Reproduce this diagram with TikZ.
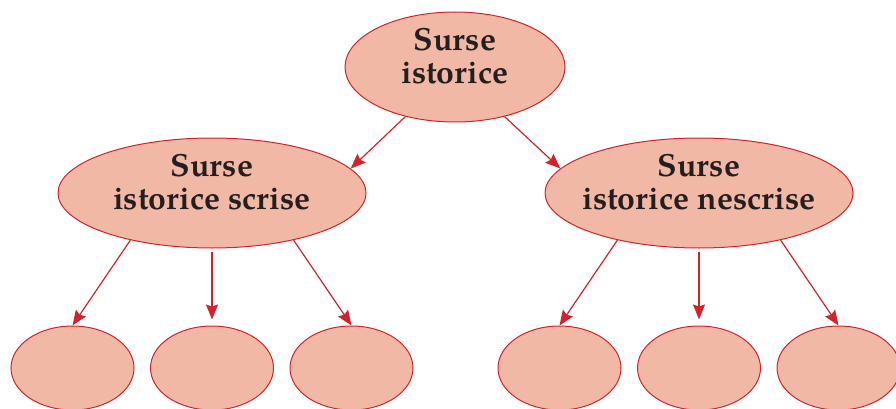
\documentclass[tikz,border=0pt]{standalone}
\usepackage{fontspec}
\setmainfont{texgyrepagella}[Extension=.otf,UprightFont=*-regular,BoldFont=*-bold]
\usetikzlibrary{shapes.geometric,arrows.meta}
\definecolor{efill}{RGB}{240,184,165}
\definecolor{ered}{RGB}{210,35,45}
\definecolor{etext}{RGB}{35,31,32}
\begin{document}
\begin{tikzpicture}[x=1pt,y=-1pt,
  bubble/.style={ellipse,draw=ered,fill=efill,line width=1pt,inner sep=0pt,
     align=center,text=etext,font=\fontsize{32}{33}\selectfont\bfseries},
  bigbub/.style={bubble,minimum width=308pt,minimum height=110pt},
  topbub/.style={bubble,minimum width=220pt,minimum height=110pt},
  smallbub/.style={bubble,minimum width=123pt,minimum height=84pt},
  lbl/.style={align=center,text=etext,inner sep=0pt,font=\fontsize{32}{33}\selectfont\bfseries},
  arr/.style={draw=ered,line width=1.2pt,-{Stealth[length=15pt,width=12pt,inset=2pt]}}]
\useasboundingbox (0,0) rectangle (896,409);
\node[topbub] (top) at (455,67) {};
\node[bigbub] (l) at (212,193) {};
\node[bigbub] (r) at (699,193) {};
\node[lbl] (topt) at ([yshift=11pt]top.center) {Surse\\istorice};
\node[lbl] (lt) at ([yshift=11pt]l.center) {Surse\\istorice scrise};
\node[lbl] (rt) at ([yshift=11pt]r.center) {Surse\\istorice nescrise};
\node[smallbub] (l1) at (72.5,368) {};
\node[smallbub] (l2) at (212,368) {};
\node[smallbub] (l3) at (351.5,368) {};
\node[smallbub] (r1) at (559.5,368) {};
\node[smallbub] (r2) at (699,368) {};
\node[smallbub] (r3) at (838.5,368) {};
\draw[arr] (top.225) -- (l.10);
\draw[arr] (top.315) -- (r.170);
\draw[arr] (l.210) -- (l1.north);
\draw[arr] ([yshift=-3pt]l.south) -- ([yshift=6pt]l2.north);
\draw[arr] (l.330) -- (l3.north);
\draw[arr] (r.210) -- (r1.north);
\draw[arr] ([yshift=-3pt]r.south) -- ([yshift=6pt]r2.north);
\draw[arr] (r.330) -- (r3.north);
\end{tikzpicture}
\end{document}
